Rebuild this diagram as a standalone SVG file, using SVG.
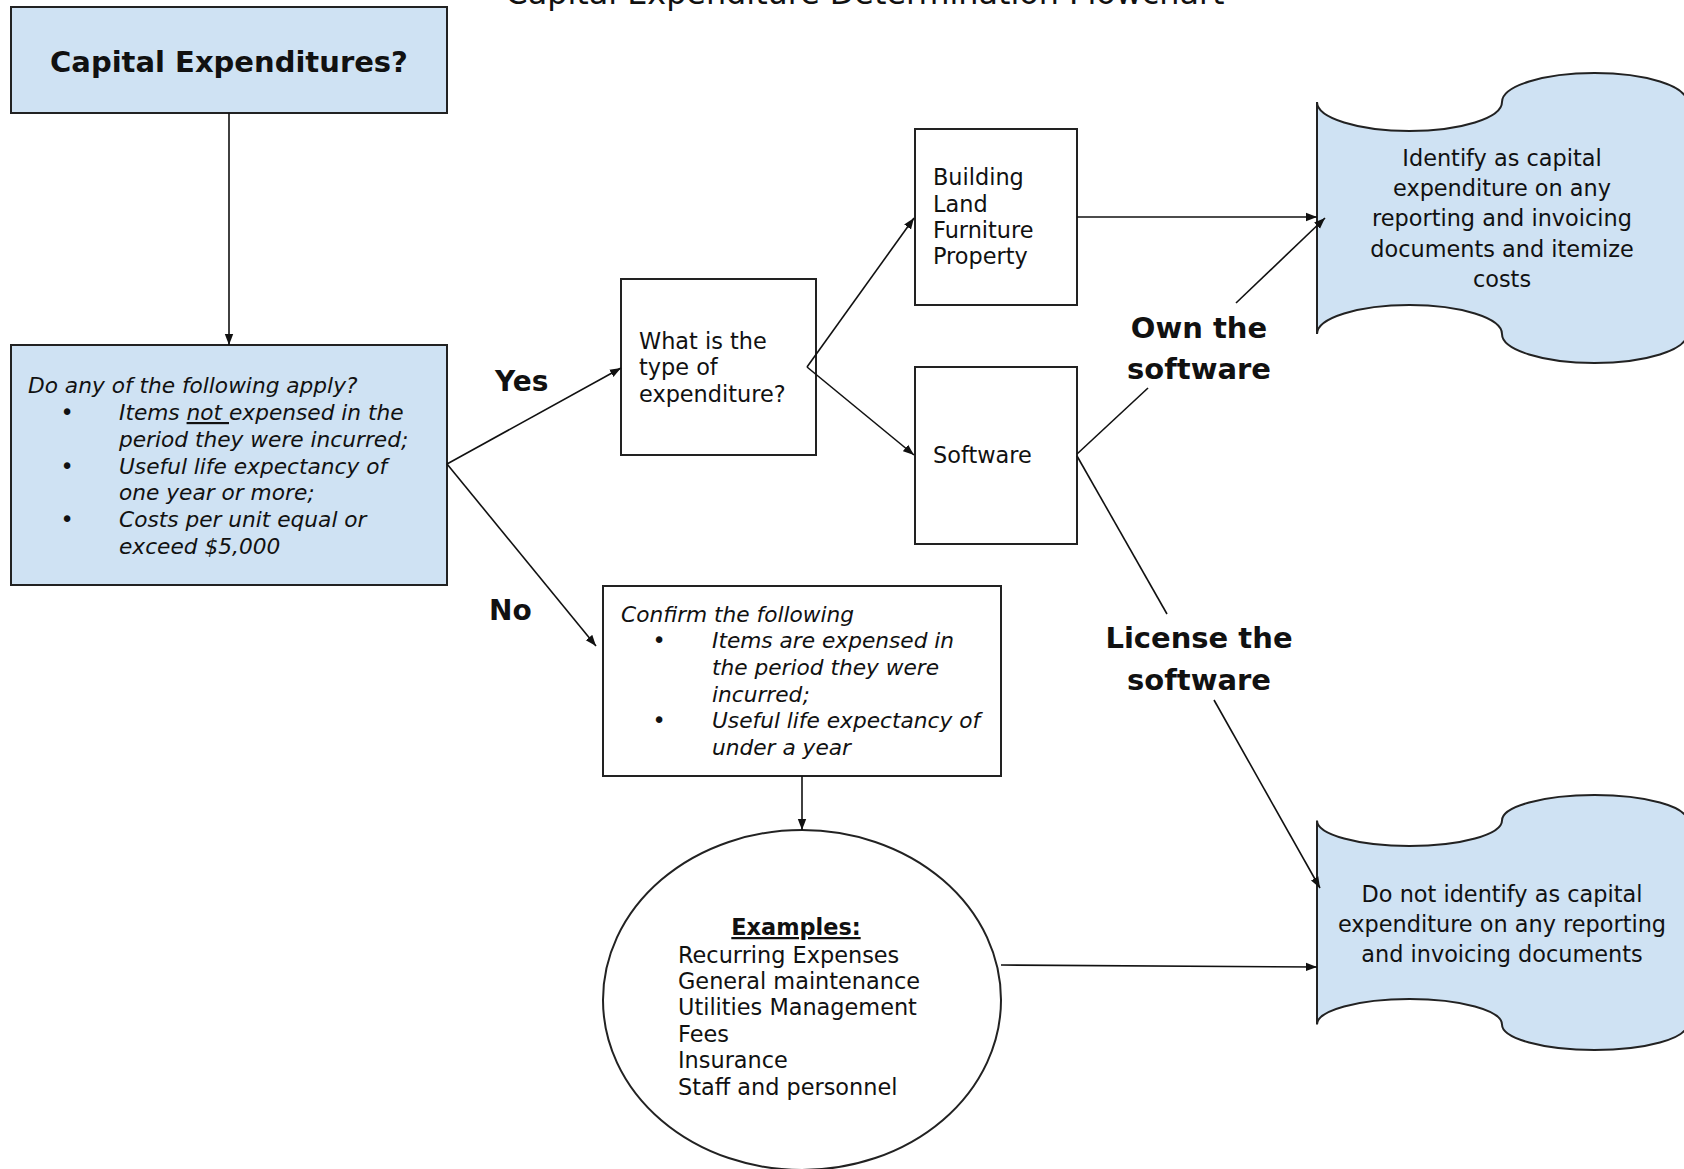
<svg xmlns="http://www.w3.org/2000/svg" width="1684" height="1169" viewBox="0 0 1684 1169">
<style>
  text { font-family: "DejaVu Sans", Verdana, sans-serif; fill: #111; }
  .box { fill: #ffffff; stroke: #222; stroke-width: 2; }
  .blue { fill: #cfe2f3; stroke: #222; stroke-width: 2; }
  .reg { font-size: 22.4px; }
  .ital { font-size: 21.7px; font-style: italic; }
  .big { font-size: 29px; font-weight: bold; }
  .lbl { font-size: 28px; font-weight: bold; }
  .conn { fill: none; stroke: #111; stroke-width: 1.6; }
  .arr { marker-end: url(#ah); }
</style>
<defs>
  <marker id="ah" markerUnits="userSpaceOnUse" markerWidth="12" markerHeight="10" refX="11" refY="5" orient="auto">
    <path d="M0,0.8 L11,5 L0,9.2 Z" fill="#111"/>
  </marker>
</defs>
<rect width="1684" height="1169" fill="#ffffff"/>

<text id="title" x="865" y="4" font-size="31.8" text-anchor="middle" textLength="719" lengthAdjust="spacingAndGlyphs">Capital Expenditure Determination Flowchart</text>

<g id="node-capex">
  <rect class="blue" x="11" y="7" width="436" height="106"/>
  <text x="229" y="72" font-size="29" font-weight="bold" text-anchor="middle">Capital Expenditures?</text>
</g>

<g id="node-apply">
  <rect class="blue" x="11" y="345" width="436" height="240"/>
  <text class="ital" x="28" y="393">Do any of the following apply?</text>
  <text class="reg" x="67" y="420" text-anchor="middle">•</text>
  <text class="ital" x="119" y="420">Items <tspan text-decoration="underline">not </tspan>expensed in the</text>
  <text class="ital" x="119" y="447">period they were incurred;</text>
  <text class="reg" x="67" y="474" text-anchor="middle">•</text>
  <text class="ital" x="119" y="474">Useful life expectancy of</text>
  <text class="ital" x="119" y="500">one year or more;</text>
  <text class="reg" x="67" y="527" text-anchor="middle">•</text>
  <text class="ital" x="119" y="527">Costs per unit equal or</text>
  <text class="ital" x="119" y="554">exceed $5,000</text>
</g>

<g id="node-type">
  <rect class="box" x="621" y="279" width="195" height="176"/>
  <text class="reg" x="639" y="349">What is the</text>
  <text class="reg" x="639" y="375">type of</text>
  <text class="reg" x="639" y="402">expenditure?</text>
</g>

<g id="node-building">
  <rect class="box" x="915" y="129" width="162" height="176"/>
  <text class="reg" x="933" y="185">Building</text>
  <text class="reg" x="933" y="212">Land</text>
  <text class="reg" x="933" y="238">Furniture</text>
  <text class="reg" x="933" y="264">Property</text>
</g>

<g id="node-software">
  <rect class="box" x="915" y="367" width="162" height="177"/>
  <text class="reg" x="933" y="463">Software</text>
</g>

<g id="node-confirm">
  <rect class="box" x="603" y="586" width="398" height="190"/>
  <text class="ital" x="621" y="622">Confirm the following</text>
  <text class="reg" x="659" y="648" text-anchor="middle">•</text>
  <text class="ital" x="712" y="648">Items are expensed in</text>
  <text class="ital" x="712" y="675">the period they were</text>
  <text class="ital" x="712" y="702">incurred;</text>
  <text class="reg" x="659" y="728" text-anchor="middle">•</text>
  <text class="ital" x="712" y="728">Useful life expectancy of</text>
  <text class="ital" x="712" y="755">under a year</text>
</g>

<g id="node-examples">
  <ellipse class="box" cx="802" cy="1000" rx="199" ry="170"/>
  <text x="796" y="935" font-size="22.4" font-weight="bold" text-anchor="middle" text-decoration="underline">Examples:</text>
  <text class="reg" x="678" y="963">Recurring Expenses</text>
  <text class="reg" x="678" y="989">General maintenance</text>
  <text class="reg" x="678" y="1015">Utilities Management</text>
  <text class="reg" x="678" y="1042">Fees</text>
  <text class="reg" x="678" y="1068">Insurance</text>
  <text class="reg" x="678" y="1095">Staff and personnel</text>
</g>

<g id="node-identify">
  <path class="blue" d="M1317,102 A92.5,29 0 0 0 1502,102 A92.5,29 0 0 1 1687,102 L1687,334 A92.5,29 0 0 1 1502,334 A92.5,29 0 0 0 1317,334 Z"/>
  <text class="reg" x="1502" y="166" text-anchor="middle">Identify as capital</text>
  <text class="reg" x="1502" y="196" text-anchor="middle">expenditure on any</text>
  <text class="reg" x="1502" y="226" text-anchor="middle">reporting and invoicing</text>
  <text class="reg" x="1502" y="257" text-anchor="middle">documents and itemize</text>
  <text class="reg" x="1502" y="287" text-anchor="middle">costs</text>
</g>

<g id="node-notidentify">
  <path class="blue" d="M1317,820.5 A92.5,25.5 0 0 0 1502,820.5 A92.5,25.5 0 0 1 1687,820.5 L1687,1024.5 A92.5,25.5 0 0 1 1502,1024.5 A92.5,25.5 0 0 0 1317,1024.5 Z"/>
  <text class="reg" x="1502" y="902" text-anchor="middle">Do not identify as capital</text>
  <text class="reg" x="1502" y="932" text-anchor="middle">expenditure on any reporting</text>
  <text class="reg" x="1502" y="962" text-anchor="middle">and invoicing documents</text>
</g>

<g id="connectors">
  <line class="conn arr" x1="229" y1="113" x2="229" y2="345"/>
  <line class="conn arr" x1="447" y1="464" x2="621" y2="368"/>
  <line class="conn arr" x1="447" y1="464" x2="596" y2="646"/>
  <line class="conn arr" x1="807" y1="367" x2="914" y2="218"/>
  <line class="conn arr" x1="807" y1="367" x2="914" y2="455"/>
  <line class="conn arr" x1="1077" y1="217" x2="1317" y2="217"/>
  <line class="conn" x1="1077" y1="454" x2="1148" y2="388"/>
  <line class="conn arr" x1="1236" y1="303" x2="1325" y2="218"/>
  <line class="conn" x1="1077" y1="456" x2="1167" y2="614"/>
  <line class="conn arr" x1="1214" y1="700" x2="1320" y2="888"/>
  <line class="conn arr" x1="802" y1="776" x2="802" y2="830"/>
  <line class="conn arr" x1="1001" y1="965" x2="1317" y2="967"/>
  <text class="lbl" x="495" y="391">Yes</text>
  <text class="lbl" x="489" y="620">No</text>
  <text class="big" x="1199" y="338" text-anchor="middle">Own the</text>
  <text class="big" x="1199" y="379" text-anchor="middle">software</text>
  <text class="big" x="1199" y="648" text-anchor="middle">License the</text>
  <text class="big" x="1199" y="690" text-anchor="middle">software</text>
</g>
</svg>
